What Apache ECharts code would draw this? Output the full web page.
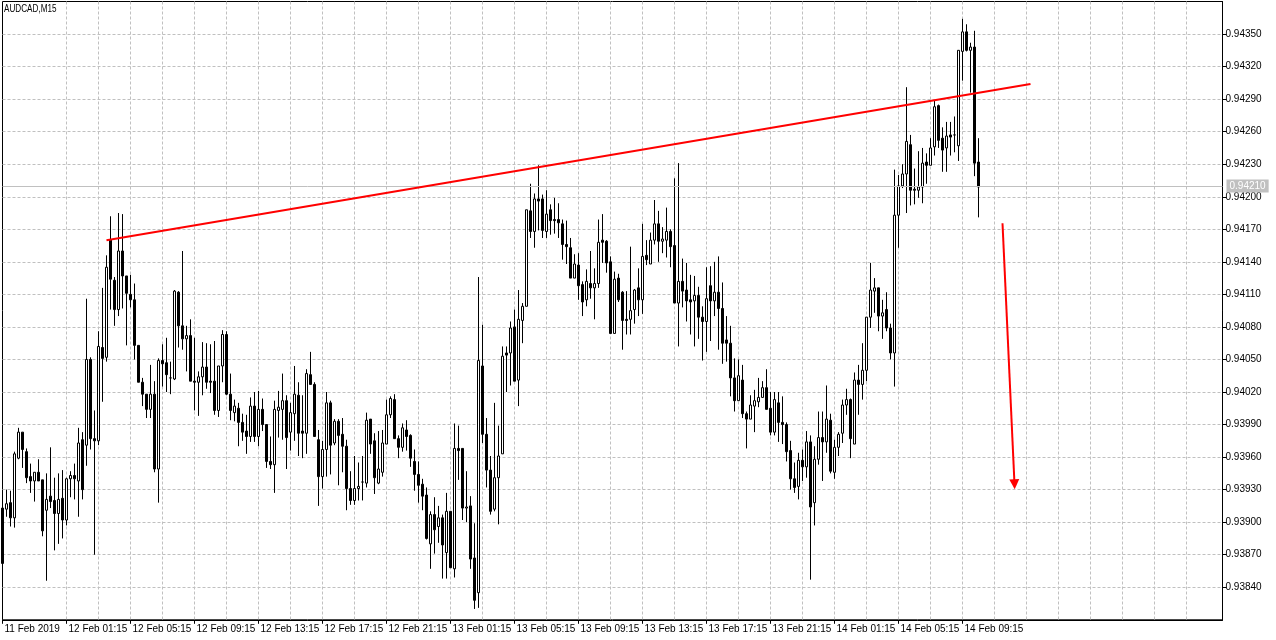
<!DOCTYPE html>
<html>
<head>
<meta charset="utf-8">
<script src="https://cdn.jsdelivr.net/npm/echarts@6/dist/echarts.min.js"></script>
<style>
html,body{margin:0;padding:0;background:#fff;}
#chart{width:1276px;height:640px;}
</style>
</head>
<body>
<div id="chart"></div>
<script>
// AUDCAD M15, first bar 11 Feb 2019 21:15
const symbolTitle = 'AUDCAD,M15';
const startTime = Date.UTC(2019, 1, 11, 21, 15);
const barCount = 306; // slots on the time axis (bars + empty right shift)

const opens = [
0.93913,0.93912,0.93918,0.93904,0.93959,0.93983,0.93965,0.93942,0.93938,0.93946,
0.93939,0.93911,0.93924,0.93920,0.93908,0.93922,0.93902,0.93940,0.93943,0.93938,
0.93976,0.93971,0.94050,0.93977,0.93975,0.94061,0.94052,0.94160,0.94123,0.94096,
0.94150,0.94127,0.94110,0.94105,0.94063,0.94029,0.94018,0.94004,0.94018,0.93949,
0.94049,0.94047,0.94033,0.94032,0.94112,0.94081,0.94069,0.94072,0.94030,0.94029,
0.94034,0.94043,0.94030,0.94030,0.94003,0.94044,0.94073,0.94018,0.94001,0.94005,
0.93992,0.93984,0.93979,0.94007,0.93979,0.94004,0.93990,0.93956,0.93953,0.94003,
0.94004,0.94012,0.93983,0.94000,0.94017,0.93984,0.93982,0.94036,0.94027,0.93976,
0.93942,0.93967,0.94010,0.93973,0.93993,0.93981,0.93970,0.93931,0.93920,0.93931,
0.93937,0.93936,0.93995,0.93975,0.93936,0.93946,0.93972,0.93999,0.94013,0.93977,
0.93969,0.93985,0.93980,0.93956,0.93944,0.93935,0.93925,0.93880,0.93907,0.93896,
0.93904,0.93872,0.93910,0.93857,0.93968,0.93968,0.93913,0.93915,0.93867,0.93835,
0.94044,0.93981,0.93948,0.93912,0.93941,0.93963,0.94056,0.94056,0.94080,0.94031,
0.94086,0.94099,0.94187,0.94168,0.94198,0.94198,0.94168,0.94188,0.94179,0.94179,
0.94175,0.94156,0.94153,0.94125,0.94137,0.94119,0.94105,0.94120,0.94116,0.94120,
0.94160,0.94159,0.94140,0.94074,0.94125,0.94112,0.94087,0.94087,0.94096,0.94116,
0.94105,0.94146,0.94138,0.94160,0.94175,0.94159,0.94160,0.94168,0.94155,0.94102,
0.94122,0.94114,0.94105,0.94104,0.94109,0.94089,0.94085,0.94118,0.94104,0.94112,
0.94097,0.94068,0.94065,0.94033,0.94012,0.94031,0.94000,0.93995,0.94007,0.94011,
0.94015,0.94024,0.94005,0.93983,0.94010,0.93992,0.93990,0.93966,0.93940,0.93933,
0.93957,0.93951,0.93974,0.93918,0.93958,0.93978,0.93974,0.93994,0.93946,0.93969,
0.93982,0.94008,0.94013,0.93972,0.94031,0.94027,0.94040,0.94089,0.94113,0.94116,
0.94090,0.94096,0.94079,0.94056,0.94183,0.94210,0.94221,0.94248,0.94207,0.94206,
0.94209,0.94232,0.94229,0.94246,0.94284,0.94254,0.94245,0.94257,0.94257,0.94247,
0.94334,0.94352,0.94335,0.94338,0.94232
];
const closes = [
0.93862,0.93917,0.93904,0.93963,0.93983,0.93967,0.93941,0.93938,0.93946,0.93938,
0.93892,0.93921,0.93919,0.93908,0.93921,0.93902,0.93940,0.93943,0.93940,0.93973,
0.93930,0.94050,0.93977,0.93975,0.94062,0.94051,0.94135,0.94124,0.94096,0.94150,
0.94127,0.94111,0.94105,0.94063,0.94029,0.94018,0.94004,0.94018,0.93949,0.94049,
0.94046,0.94036,0.94033,0.94113,0.94081,0.94069,0.94072,0.94030,0.94029,0.94034,
0.94043,0.94029,0.94029,0.94003,0.94044,0.94073,0.94018,0.94003,0.94007,0.93992,
0.93983,0.93979,0.94007,0.93979,0.94004,0.93990,0.93956,0.93953,0.94004,0.94006,
0.94012,0.93978,0.94001,0.94018,0.93982,0.93982,0.94037,0.94027,0.93979,0.93942,
0.93967,0.94010,0.93971,0.93993,0.93980,0.93970,0.93931,0.93920,0.93931,0.93933,
0.93937,0.93994,0.93972,0.93941,0.93949,0.93973,0.93999,0.94014,0.93977,0.93969,
0.93987,0.93979,0.93959,0.93944,0.93934,0.93924,0.93885,0.93907,0.93893,0.93904,
0.93879,0.93910,0.93858,0.93968,0.93966,0.93913,0.93914,0.93866,0.93828,0.94049,
0.93981,0.93948,0.93910,0.93941,0.93961,0.94053,0.94054,0.94079,0.94030,0.94087,
0.94099,0.94188,0.94168,0.94198,0.94196,0.94169,0.94184,0.94178,0.94178,0.94176,
0.94156,0.94154,0.94125,0.94138,0.94118,0.94103,0.94122,0.94116,0.94120,0.94158,
0.94158,0.94139,0.94074,0.94124,0.94105,0.94086,0.94086,0.94095,0.94114,0.94105,
0.94145,0.94142,0.94160,0.94175,0.94159,0.94161,0.94168,0.94154,0.94102,0.94122,
0.94113,0.94104,0.94103,0.94109,0.94089,0.94085,0.94106,0.94104,0.94112,0.94097,
0.94065,0.94065,0.94033,0.94012,0.94035,0.94000,0.93995,0.94008,0.94012,0.94015,
0.94024,0.94004,0.93983,0.94013,0.93992,0.93990,0.93965,0.93940,0.93932,0.93957,
0.93951,0.93974,0.93914,0.93958,0.93978,0.93974,0.93995,0.93947,0.93969,0.93981,
0.94008,0.94013,0.93977,0.94031,0.94027,0.94040,0.94089,0.94114,0.94116,0.94090,
0.94093,0.94079,0.94056,0.94183,0.94210,0.94221,0.94251,0.94206,0.94206,0.94209,
0.94231,0.94229,0.94245,0.94283,0.94252,0.94243,0.94256,0.94255,0.94257,0.94335,
0.94352,0.94335,0.94338,0.94231,0.94209
];
const lows = [
0.93855,0.93905,0.93896,0.93895,0.93958,0.93950,0.93936,0.93927,0.93919,0.93938,
0.93887,0.93846,0.93913,0.93874,0.93880,0.93885,0.93897,0.93923,0.93921,0.93905,
0.93921,0.93952,0.93967,0.93870,0.93971,0.94011,0.94048,0.94096,0.94081,0.94090,
0.94097,0.94063,0.94098,0.94050,0.94029,0.94007,0.93996,0.93996,0.93946,0.93918,
0.94025,0.94020,0.94018,0.94031,0.94061,0.94059,0.94039,0.94030,0.94003,0.93998,
0.94017,0.94023,0.94019,0.93999,0.93997,0.94029,0.94017,0.93994,0.93993,0.93970,
0.93975,0.93963,0.93974,0.93974,0.93970,0.93984,0.93950,0.93949,0.93927,0.93978,
0.93976,0.93949,0.93966,0.93975,0.93961,0.93959,0.93963,0.94027,0.93979,0.93915,
0.93931,0.93942,0.93944,0.93971,0.93934,0.93946,0.93911,0.93916,0.93916,0.93920,
0.93920,0.93932,0.93963,0.93926,0.93935,0.93942,0.93972,0.93996,0.93977,0.93959,
0.93965,0.93966,0.93951,0.93929,0.93918,0.93911,0.93884,0.93857,0.93871,0.93881,
0.93848,0.93848,0.93858,0.93849,0.93939,0.93902,0.93900,0.93857,0.93820,0.93821,
0.93973,0.93932,0.93907,0.93910,0.93898,0.93963,0.94020,0.94026,0.94030,0.94007,
0.94065,0.94099,0.94162,0.94153,0.94169,0.94162,0.94162,0.94165,0.94166,0.94162,
0.94142,0.94138,0.94125,0.94125,0.94105,0.94090,0.94099,0.94106,0.94087,0.94116,
0.94139,0.94130,0.94074,0.94074,0.94103,0.94059,0.94073,0.94073,0.94083,0.94090,
0.94092,0.94137,0.94138,0.94156,0.94140,0.94148,0.94144,0.94135,0.94102,0.94062,
0.94098,0.94085,0.94073,0.94062,0.94069,0.94049,0.94057,0.94067,0.94090,0.94059,
0.94046,0.94048,0.94016,0.94002,0.94012,0.93996,0.93968,0.93995,0.93983,0.94006,
0.94015,0.94004,0.93980,0.93980,0.93974,0.93972,0.93956,0.93930,0.93927,0.93921,
0.93938,0.93941,0.93847,0.93897,0.93953,0.93938,0.93964,0.93945,0.93940,0.93961,
0.93973,0.93999,0.93959,0.93972,0.93999,0.94013,0.94030,0.94079,0.94093,0.94076,
0.94069,0.94076,0.94050,0.94025,0.94153,0.94208,0.94185,0.94192,0.94193,0.94199,
0.94194,0.94212,0.94229,0.94238,0.94245,0.94223,0.94223,0.94238,0.94241,0.94233,
0.94307,0.94334,0.94296,0.94219,0.94181
];
const highs = [
0.93920,0.93930,0.93929,0.93965,0.93987,0.93983,0.93968,0.93954,0.93946,0.93958,
0.93939,0.93945,0.93969,0.93941,0.93945,0.93948,0.93941,0.93947,0.93954,0.93987,
0.93983,0.94106,0.94052,0.94003,0.94076,0.94116,0.94146,0.94182,0.94126,0.94185,
0.94184,0.94127,0.94128,0.94120,0.94063,0.94033,0.94018,0.94045,0.94030,0.94051,
0.94064,0.94070,0.94048,0.94114,0.94113,0.94150,0.94081,0.94087,0.94070,0.94039,
0.94066,0.94065,0.94064,0.94067,0.94044,0.94077,0.94076,0.94037,0.94013,0.94010,
0.94000,0.93999,0.94015,0.94020,0.94021,0.94014,0.93990,0.93979,0.94012,0.94021,
0.94037,0.94017,0.94010,0.94044,0.94029,0.94017,0.94041,0.94057,0.94029,0.93985,
0.93975,0.94020,0.94012,0.93995,0.93995,0.93996,0.93976,0.93947,0.93961,0.93955,
0.93961,0.94001,0.93995,0.93982,0.93984,0.93985,0.94013,0.94016,0.94018,0.93980,
0.93991,0.93994,0.93981,0.93967,0.93956,0.93940,0.93932,0.93910,0.93923,0.93915,
0.93907,0.93927,0.93910,0.93991,0.93989,0.93968,0.93947,0.93924,0.93899,0.94126,
0.94082,0.93996,0.93961,0.94010,0.93989,0.94062,0.94062,0.94085,0.94096,0.94114,
0.94102,0.94188,0.94212,0.94203,0.94229,0.94202,0.94206,0.94193,0.94199,0.94194,
0.94179,0.94178,0.94162,0.94147,0.94148,0.94122,0.94133,0.94150,0.94134,0.94179,
0.94184,0.94160,0.94145,0.94131,0.94129,0.94113,0.94113,0.94154,0.94115,0.94134,
0.94175,0.94160,0.94167,0.94197,0.94187,0.94172,0.94190,0.94170,0.94217,0.94231,
0.94143,0.94139,0.94128,0.94127,0.94117,0.94099,0.94135,0.94136,0.94140,0.94145,
0.94121,0.94090,0.94081,0.94051,0.94050,0.94045,0.94002,0.94017,0.94022,0.94033,
0.94030,0.94041,0.94020,0.94020,0.94020,0.94016,0.93992,0.93975,0.93955,0.93964,
0.93967,0.93984,0.93980,0.93970,0.94002,0.94002,0.94026,0.94000,0.93976,0.93983,
0.94013,0.94023,0.94014,0.94038,0.94045,0.94065,0.94089,0.94139,0.94125,0.94116,
0.94105,0.94112,0.94083,0.94225,0.94220,0.94230,0.94301,0.94257,0.94226,0.94242,
0.94245,0.94240,0.94254,0.94289,0.94285,0.94264,0.94269,0.94269,0.94274,0.94335,
0.94364,0.94359,0.94342,0.94353,0.94254
];

const tickLabels = ['11 Feb 2019','12 Feb 01:15','12 Feb 05:15','12 Feb 09:15','12 Feb 13:15',
  '12 Feb 17:15','12 Feb 21:15','13 Feb 01:15','13 Feb 05:15','13 Feb 09:15','13 Feb 13:15',
  '13 Feb 17:15','13 Feb 21:15','14 Feb 01:15','14 Feb 05:15','14 Feb 09:15'];

const currentBid = 0.94210;
// trend line anchors [bar index, price]
const trendStart = [26, 0.94160];
const trendEnd = [257, 0.94304];
// forecast arrow anchors [bar index, price]
const arrowStart = [250, 0.941755];
const arrowEnd = [253, 0.93935];

const categories = [];
for (let i = 0; i < barCount; i++) {
  const d = new Date(startTime + i * 15 * 60000);
  categories.push(d.toISOString().slice(0, 16).replace('T', ' '));
}
const candleData = opens.map((o, i) => [o, closes[i], lows[i], highs[i]]);

const FONT = 'Liberation Sans, Arial, sans-serif';
const chart = echarts.init(document.getElementById('chart'), null, {renderer: 'canvas'});
chart.setOption({
  animation: false,
  backgroundColor: '#ffffff',
  grid: {
    left: 2.5, top: 1.5, width: 1220, height: 618.3,
    show: true, borderColor: '#000', borderWidth: 1, backgroundColor: 'transparent'
  },
  graphic: [{
    type: 'text', left: 4, top: 3, scaleX: 0.74,
    style: {text: symbolTitle, font: '11px ' + FONT, fill: '#000'}
  }],
  xAxis: {
    type: 'category',
    data: categories,
    boundaryGap: false,
    axisLine: {show: true, lineStyle: {color: '#000', width: 1}},
    axisTick: {show: true, length: 4, interval: (i) => i % 16 === 0 && i <= 240, lineStyle: {color: '#000'}},
    axisLabel: {
      show: true, interval: (i) => i % 16 === 0 && i <= 240,
      formatter: (v, i) => tickLabels[Math.round(i / 16)] || '',
      align: 'left', margin: 4, padding: [0, 0, 0, 2],
      color: '#000', fontFamily: FONT, fontSize: 10
    },
    splitLine: {show: true, showMinLine: false, showMaxLine: false,
      interval: (i) => i % 8 === 0 && i > 0,
      lineStyle: {color: '#c0c0c0', type: [3, 2], width: 1}}
  },
  yAxis: {
    type: 'value',
    position: 'right',
    min: 0.93810, max: 0.94380, interval: 0.0003,
    scale: true,
    axisLine: {show: true, lineStyle: {color: '#000', width: 1}},
    axisTick: {show: true, length: 4, lineStyle: {color: '#000'}},
    axisLabel: {
      show: true, margin: 3, color: '#000', fontFamily: FONT, fontSize: 10,
      showMinLabel: false, showMaxLabel: false,
      formatter: (v) => v.toFixed(5)
    },
    splitLine: {show: true, showMinLine: false, showMaxLine: false,
      lineStyle: {color: '#c0c0c0', type: [3, 2], width: 1}}
  },
  series: [{
    type: 'candlestick',
    data: candleData,
    barWidth: 2,
    clip: true,
    itemStyle: {
      color: '#ffffff', color0: '#000000',
      borderColor: '#000000', borderColor0: '#000000', borderColorDoji: '#000000',
      borderWidth: 1
    },
    markLine: {
      silent: true,
      animation: false,
      symbol: 'none',
      data: [
        [
          {coord: [0, currentBid], symbol: 'none',
           lineStyle: {color: '#c0c0c0', type: 'solid', width: 1},
           label: {
             show: true, position: 'end', distance: 4,
             formatter: currentBid.toFixed(5),
             backgroundColor: '#c0c0c0', color: '#ffffff',
             fontFamily: FONT, fontSize: 10, padding: [2, 3, 1, 3]
           }},
          {coord: [barCount - 1, currentBid], symbol: 'none'}
        ],
        [
          {coord: trendStart, symbol: 'none', lineStyle: {color: '#ff0000', width: 2, type: 'solid'}, label: {show: false}},
          {coord: trendEnd, symbol: 'none'}
        ],
        [
          {coord: arrowStart, symbol: 'none', lineStyle: {color: '#ff0000', width: 2, type: 'solid'}, label: {show: false}},
          {coord: arrowEnd, symbol: 'triangle', symbolSize: [10, 10]}
        ]
      ]
    }
  }]
});
</script>
</body>
</html>
